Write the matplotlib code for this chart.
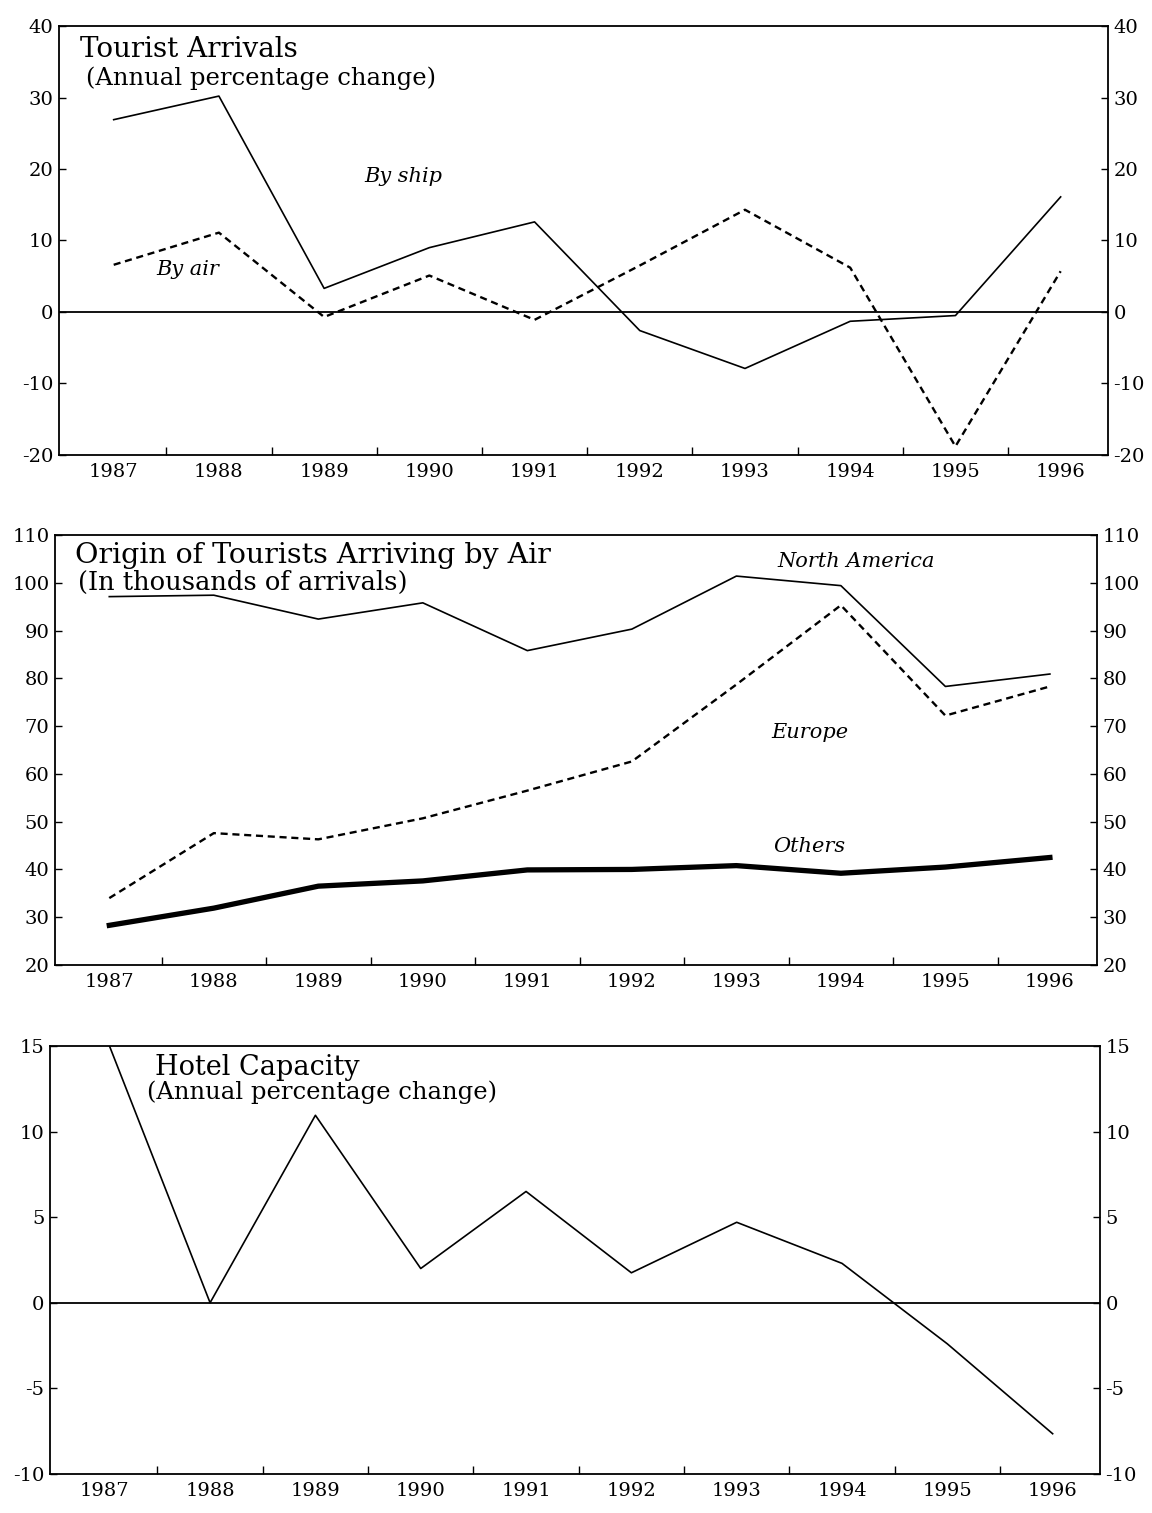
import numpy as np
from matplotlib import pyplot as plt

years = [1987, 1988, 1989, 1990, 1991, 1992, 1993, 1994, 1995, 1996]

# Tourist arrivals, annual percentage change
by_ship = [26.9, 30.2, 3.3, 9.0, 12.6, -2.6, -7.9, -1.3, -0.5, 16.1]
by_air = [6.6, 11.1, -0.7, 5.1, -1.1, 6.5, 14.3, 6.2, -18.8, 5.7]

# Origin of tourists arriving by air, thousands
north_america = [97.1, 97.4, 92.4, 95.8, 85.8, 90.3, 101.4, 99.4, 78.3, 80.9]
europe = [34.0, 47.6, 46.3, 50.7, 56.5, 62.6, 78.7, 95.3, 72.2, 78.3]
others = [28.3, 31.9, 36.5, 37.6, 39.9, 40.0, 40.8, 39.2, 40.5, 42.5]

# Hotel capacity, annual percentage change
hotel = [15.7, 0.0, 10.95, 2.0, 6.5, 1.75, 4.7, 2.3, -2.4, -7.65]

plt.rcParams['font.family'] = ['DejaVu Serif']
DASH = (0, (3, 2))


def setup_axes(ax, ylim, yticks):
    ax.set_xlim(1986.48, 1996.45)
    ax.set_ylim(*ylim)
    ax.set_yticks(yticks)
    ax.set_yticklabels([str(t) for t in yticks])
    # year labels without marks, small marks between years
    ax.set_xticks(years)
    ax.set_xticklabels([str(y) for y in years])
    ax.set_xticks(np.arange(1987.5, 1996, 1.0), minor=True)
    ax.tick_params(axis='x', which='major', length=0, pad=6, labelsize=14)
    ax.tick_params(axis='x', which='minor', direction='in', length=6,
                   width=1.0)
    ax.tick_params(axis='y', direction='in', length=5, width=1.0,
                   right=True, labelright=True, labelsize=14, pad=4)
    for s in ax.spines.values():
        s.set_linewidth(1.3)


def title(ax, x1, y1, line1, size1, x2, y2, line2, size2):
    ax.text(x1, y1, line1, transform=ax.transAxes, fontsize=size1,
            va='baseline', ha='left')
    ax.text(x2, y2, line2, transform=ax.transAxes, fontsize=size2,
            va='baseline', ha='left')


fig = plt.figure(figsize=(11.52, 15.13), dpi=100)

# top: tourist arrivals
ax1 = fig.add_axes([0.0512, 0.6993, 0.9106, 0.2835])
ax1.plot(years, by_ship, color='black', lw=1.2)
ax1.plot(years, by_air, color='black', lw=1.7, linestyle=DASH)
ax1.axhline(0, color='black', lw=1.3)
setup_axes(ax1, (-20, 40), [-20, -10, 0, 10, 20, 30, 40])
title(ax1, 0.02, 0.928, "Tourist Arrivals", 20,
      0.026, 0.862, "(Annual percentage change)", 17.5)
ax1.text(1989.75, 19, "By ship", style='italic', fontsize=15,
         ha='center', va='center')
ax1.text(1987.7, 6, "By air", style='italic', fontsize=15,
         ha='center', va='center')

# middle: origin of tourists arriving by air
ax2 = fig.add_axes([0.0477, 0.3622, 0.9045, 0.2842])
ax2.plot(years, north_america, color='black', lw=1.2)
ax2.plot(years, europe, color='black', lw=1.7, linestyle=DASH)
ax2.plot(years, others, color='black', lw=3.8)
setup_axes(ax2, (20, 110), [20, 30, 40, 50, 60, 70, 80, 90, 100, 110])
title(ax2, 0.019, 0.935, "Origin of Tourists Arriving by Air", 20.5,
      0.022, 0.872, "(In thousands of arrivals)", 18.5)
ax2.text(1994.15, 104.4, "North America", style='italic', fontsize=15,
         ha='center', va='center')
ax2.text(1993.7, 68.6, "Europe", style='italic', fontsize=15,
         ha='center', va='center')
ax2.text(1993.7, 44.9, "Others", style='italic', fontsize=15,
         ha='center', va='center')

# bottom: hotel capacity
ax3 = fig.add_axes([0.0434, 0.0258, 0.9115, 0.2829])
ax3.plot(years, hotel, color='black', lw=1.2)
ax3.axhline(0, color='black', lw=1.3)
setup_axes(ax3, (-10, 15), [-10, -5, 0, 5, 10, 15])
title(ax3, 0.10, 0.932, "Hotel Capacity", 19.5,
      0.092, 0.876, "(Annual percentage change)", 17.5)

fig.savefig("out.png", dpi=100, facecolor='white')
